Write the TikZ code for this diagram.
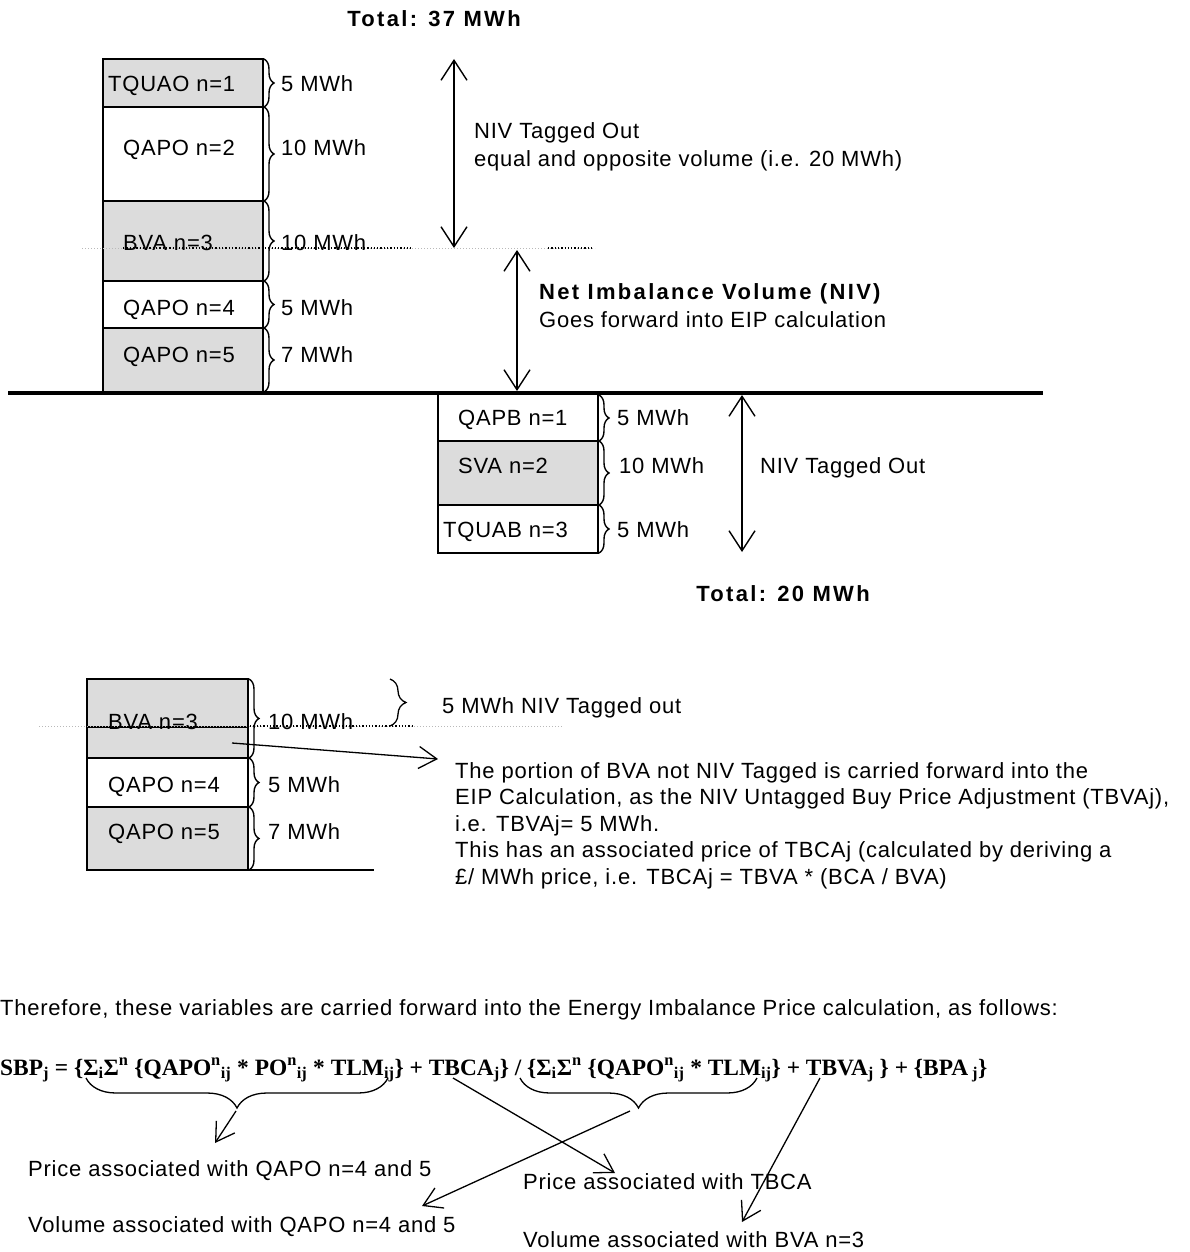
\documentclass[tikz,border=0pt]{standalone}
\usepackage{fontspec}
\setmainfont{Liberation Sans}[LetterSpace=3.5, BoldFeatures={LetterSpace=10.5}]
\newfontfamily\fserif{Liberation Serif}
\usetikzlibrary{arrows.meta,decorations.pathreplacing}
\definecolor{cellgrey}{HTML}{DCDCDC}
\begin{document}
\begin{tikzpicture}[x=1pt,y=-1pt,
  txt/.style={font=\fontsize{22}{26}\selectfont, inner sep=0pt, anchor=base west},
  btxt/.style={font=\fontsize{22}{26}\selectfont\bfseries, inner sep=0pt, anchor=base west},
  btc/.style={font=\fontsize{22}{26}\selectfont\bfseries, inner sep=0pt, anchor=base},
  ftxt/.style={font=\fontsize{23.4}{28}\selectfont\fserif\bfseries, inner sep=0pt, anchor=base west},
  cell/.style={draw=black, line width=1.6pt},
  rbr/.style={decorate, decoration={brace, amplitude=10pt}, line width=1.4pt},
  dbr/.style={decorate, decoration={brace, mirror, amplitude=30pt}, line width=1.3pt},
  dbl/.style={{Straight Barb[length=20pt,width=26pt]}-{Straight Barb[length=20pt,width=26pt]}, line width=1.4pt},
  arr/.style={-{Straight Barb[length=18pt,width=22pt]}, line width=1.3pt},
  dotgrey/.style={draw=gray!55, dotted, line width=1pt},
  dotblack/.style={draw=black, dotted, line width=1.3pt}]
\useasboundingbox (0,0) rectangle (1189,1252);
\fill[white] (0,0) rectangle (1189,1252);

% ---------- top stack ----------
\draw[cell, fill=cellgrey] (103,59) rectangle (263,107);
\draw[cell, fill=white] (103,107) rectangle (263,201);
\draw[cell, fill=cellgrey] (103,201) rectangle (263,281);
\draw[cell, fill=white] (103,281) rectangle (263,328);
\draw[cell, fill=cellgrey] (103,328) rectangle (263,393);

% dotted level line
\draw[dotgrey] (82,248) -- (595,248);
\draw[dotblack] (123,248) -- (413,248);
\draw[dotblack] (548,248) -- (593,248);

\node[txt] (t1) at (108,92) {TQUAO n=1};
\node[txt] (t2) at (123,156) {QAPO n=2};
\node[txt] (t3) at (123,250) {BVA n=3};
\node[txt] (t4) at (123,315) {QAPO n=4};
\node[txt] (t5) at (123,362) {QAPO n=5};

\draw[rbr] (264,59) -- (264,107);
\draw[rbr] (264,107) -- (264,201);
\draw[rbr] (264,201) -- (264,281);
\draw[rbr] (264,281) -- (264,328);
\draw[rbr] (264,328) -- (264,392);
\node[txt] (l1) at (281,92) {5 MWh};
\node[txt] (l2) at (281,156) {10 MWh};
\node[txt] (l3) at (281,250) {10 MWh};
\node[txt] (l4) at (281,315) {5 MWh};
\node[txt] (l5) at (281,362) {7 MWh};

\node[btc] (tot1) at (434,27) {Total: 37 MWh};

\coordinate (a1t) at (454,59);
\coordinate (a1b) at (454,248);
\draw[dbl] (a1t) -- (a1b);
\node[txt] (niv1) at (474,139) {NIV Tagged Out};
\node[txt] (niv2) at (474,167) {equal and opposite volume (i.e. 20 MWh)};

\coordinate (a2t) at (517,250);
\coordinate (a2b) at (517,391);
\draw[dbl] (a2t) -- (a2b);
\node[btxt] (net1) at (539,299) {Net Imbalance Volume (NIV)};
\node[txt] (net2) at (539,327) {Goes forward into EIP calculation};

% ---------- lower stack ----------
\draw[cell, fill=white] (438,393) rectangle (598,441);
\draw[cell, fill=cellgrey] (438,441) rectangle (598,505);
\draw[cell, fill=white] (438,505) rectangle (598,553);
\node[txt] (s1) at (458,425) {QAPB n=1};
\node[txt] (s2) at (458,473) {SVA n=2};
\node[txt] (s3) at (443,537) {TQUAB n=3};
\draw[rbr] (599,395) -- (599,441);
\draw[rbr] (599,441) -- (599,505);
\draw[rbr] (599,505) -- (599,553);
\node[txt] (m1) at (617,425) {5 MWh};
\node[txt] (m2) at (619,473) {10 MWh};
\node[txt] (m3) at (617,537) {5 MWh};

\coordinate (a3t) at (742,395);
\coordinate (a3b) at (742,552);
\draw[dbl] (a3t) -- (a3b);
\node[txt] (niv3) at (760,473) {NIV Tagged Out};
\node[btc] (tot2) at (783,601) {Total: 20 MWh};

% thick base line
\draw[line width=4.5pt] (8,393) -- (1043,393);

% ---------- lower-left stack ----------
\draw[cell, fill=cellgrey] (87,679) rectangle (248,758);
\draw[cell] (87,727) -- (248,727);
\draw[cell, fill=white] (87,758) rectangle (248,807);
\draw[cell, fill=cellgrey] (87,807) rectangle (248,870);
\draw[line width=1.6pt] (248,870) -- (374,870);

\draw[dotgrey] (39,726) -- (563,726);
\draw[dotblack] (250,726) -- (413,726);

\node[txt] (b1) at (108,729) {BVA n=3};
\node[txt] (b2) at (108,792) {QAPO n=4};
\node[txt] (b3) at (108,839) {QAPO n=5};
\draw[rbr] (249,679) -- (249,758);
\draw[rbr] (249,758) -- (249,807);
\draw[rbr] (249,807) -- (249,870);
\node[txt] (k1) at (268,729) {10 MWh};
\node[txt] (k2) at (268,792) {5 MWh};
\node[txt] (k3) at (268,839) {7 MWh};

\draw[decorate, decoration={brace, amplitude=16pt}, line width=1.3pt] (390,679) -- (390,726);
\node[txt] (tag5) at (442,713) {5 MWh NIV Tagged out};

\coordinate (bvs) at (232,743);
\coordinate (bve) at (438,759);
\draw[arr] (bvs) -- (bve);

\node[txt] (p1) at (455,778) {The portion of BVA not NIV Tagged is carried forward into the};
\node[txt] (p2) at (455,804.5) {EIP Calculation, as the NIV Untagged Buy Price Adjustment (TBVAj),};
\node[txt] (p3) at (455,831) {i.e. TBVAj= 5 MWh.};
\node[txt] (p4) at (455,857.5) {This has an associated price of TBCAj (calculated by deriving a};
\node[txt] (p5) at (455,884) {£/ MWh price, i.e. TBCAj = TBVA * (BCA / BVA)};

% ---------- formula ----------
\node[txt] (thf) at (0,1015) {Therefore, these variables are carried forward into the Energy Imbalance Price calculation, as follows:};
\node[ftxt] (frm) at (0,1075) {SBP\textsubscript{j} = \{Σ\textsubscript{i}Σ\textsuperscript{n} \{QAPO\textsuperscript{n}\textsubscript{ij} * PO\textsuperscript{n}\textsubscript{ij} * TLM\textsubscript{ij}\} + TBCA\textsubscript{j}\} / \{Σ\textsubscript{i}Σ\textsuperscript{n} \{QAPO\textsuperscript{n}\textsubscript{ij} * TLM\textsubscript{ij}\} + TBVA\textsubscript{j} \} + \{BPA\,\textsubscript{j}\}};

\draw[dbr] (86,1078) -- (388,1078);
\draw[dbr] (520,1078) -- (757,1078);

\coordinate (f1s) at (236,1111);
\coordinate (f1e) at (215,1143);
\coordinate (f2s) at (453,1078);
\coordinate (f2e) at (615,1173);
\coordinate (f3s) at (630,1111);
\coordinate (f3e) at (422,1206);
\coordinate (f4s) at (820,1078);
\coordinate (f4e) at (742,1222);
\draw[arr] (f1s) -- (f1e);
\draw[arr] (f2s) -- (f2e);
\draw[arr] (f3s) -- (f3e);
\draw[arr] (f4s) -- (f4e);

\node[txt] (q1) at (28,1176) {Price associated with QAPO n=4 and 5};
\node[txt] (q2) at (28,1232) {Volume associated with QAPO n=4 and 5};
\node[txt] (q3) at (523,1189) {Price associated with TBCA};
\node[txt] (q4) at (523,1247) {Volume associated with BVA n=3};
\end{tikzpicture}
\end{document}
